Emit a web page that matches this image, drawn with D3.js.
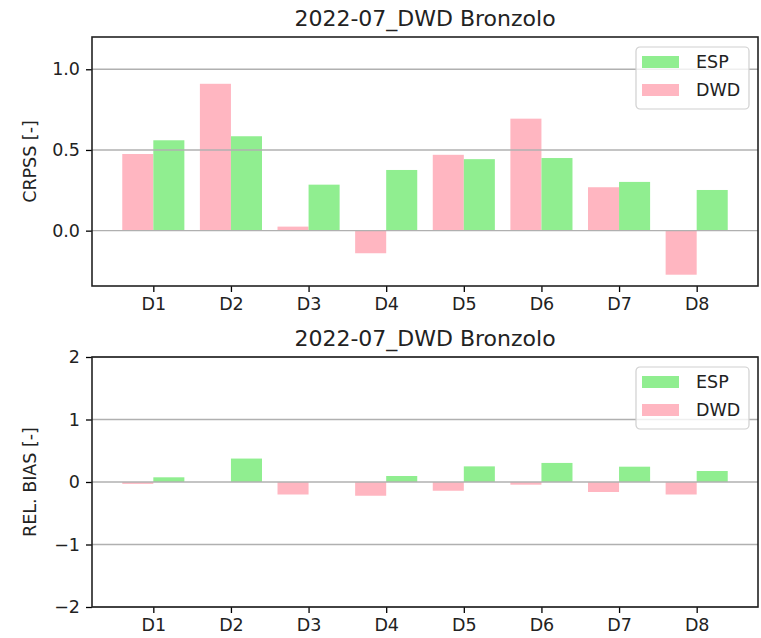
<!DOCTYPE html>
<html>
<head>
<meta charset="utf-8">
<script src="https://cdn.jsdelivr.net/npm/d3@7"></script>
<style>
  body { margin: 0; background: #fff; }
  svg { font-family: "DejaVu Sans", sans-serif; }
</style>
</head>
<body>
<svg id="chart" width="761" height="638"></svg>
<script>
const days = ['D1', 'D2', 'D3', 'D4', 'D5', 'D6', 'D7', 'D8'];
const title = '2022-07_DWD Bronzolo';
const seriesNames = ['ESP', 'DWD'];

const crpssEsp = [0.56, 0.585, 0.285, 0.376, 0.443, 0.45, 0.302, 0.252];
const crpssDwd = [0.475, 0.91, 0.025, -0.14, 0.47, 0.694, 0.269, -0.273];
const crpssTicks = [0.0, 0.5, 1.0];

const biasEsp = [0.075, 0.375, 0.0, 0.096, 0.25, 0.305, 0.245, 0.176];
const biasDwd = [-0.03, 0.0, -0.2, -0.22, -0.14, -0.043, -0.16, -0.2];
const biasTicks = [-2, -1, 0, 1, 2];

const colors = { ESP: '#90ee90', DWD: '#ffb6c1' };

const svg = d3.select('#chart');
const left = 92, right = 758;

function panel(opts) {
    const g = svg.append('g');
    const x = d3.scaleLinear().domain([-0.79, days.length - 1 + 0.79]).range([left, right]);
    const y = d3.scaleLinear().domain(opts.yDomain).range([opts.bottom, opts.top]);
    const w = 0.4;

    // bars: DWD left of tick, ESP right of tick
    g.selectAll('.dwd').data(opts.dwd).enter().append('rect')
        .attr('x', (d, i) => x(i - w))
        .attr('width', x(w) - x(0))
        .attr('y', d => y(Math.max(0, d)))
        .attr('height', d => Math.abs(y(d) - y(0)))
        .attr('fill', colors.DWD);
    g.selectAll('.esp').data(opts.esp).enter().append('rect')
        .attr('x', (d, i) => x(i))
        .attr('width', x(w) - x(0))
        .attr('y', d => y(Math.max(0, d)))
        .attr('height', d => Math.abs(y(d) - y(0)))
        .attr('fill', colors.ESP);

    // grid on top of bars, like matplotlib
    g.append('g').selectAll('line').data(opts.ticks).enter().append('line')
        .attr('x1', left).attr('x2', right)
        .attr('y1', d => y(d)).attr('y2', d => y(d))
        .attr('stroke', '#b0b0b0').attr('stroke-width', 1.4);

    const yAxis = g.append('g')
        .attr('transform', `translate(${left},0)`)
        .call(d3.axisLeft(y).tickValues(opts.ticks).tickFormat(opts.fmt).tickSize(6).tickPadding(6));
    const xAxis = g.append('g')
        .attr('transform', `translate(0,${opts.bottom})`)
        .call(d3.axisBottom(x).tickValues(d3.range(days.length)).tickFormat(i => days[i]).tickSize(6).tickPadding(6));
    [xAxis, yAxis].forEach(a => {
        a.select('.domain').remove();
        a.selectAll('line').attr('stroke', '#000').attr('stroke-width', 1.3);
        a.selectAll('text').attr('font-size', 17.5).attr('fill', '#222')
            .attr('font-family', '"DejaVu Sans", sans-serif');
    });

    g.append('rect')
        .attr('x', left).attr('y', opts.top)
        .attr('width', right - left).attr('height', opts.bottom - opts.top)
        .attr('fill', 'none').attr('stroke', '#222').attr('stroke-width', 1.6);

    g.append('text')
        .attr('x', (left + right) / 2).attr('y', opts.top - 11)
        .attr('text-anchor', 'middle').attr('font-size', 22).attr('fill', '#222')
        .text(title);

    g.append('text')
        .attr('transform', `translate(36,${(opts.top + opts.bottom) / 2}) rotate(-90)`)
        .attr('text-anchor', 'middle').attr('font-size', 17.5).attr('fill', '#222')
        .text(opts.yLabel);

    // legend
    const lg = g.append('g').attr('transform', `translate(636,${opts.top + 10})`);
    lg.append('rect')
        .attr('width', 113).attr('height', 62).attr('rx', 4)
        .attr('fill', 'rgba(255,255,255,0.8)').attr('stroke', '#d0d0d0').attr('stroke-width', 1.2);
    seriesNames.forEach((name, i) => {
        lg.append('rect')
            .attr('x', 6).attr('y', 9 + i * 28)
            .attr('width', 37).attr('height', 12)
            .attr('fill', colors[name]);
        lg.append('text')
            .attr('x', 60).attr('y', 21 + i * 28)
            .attr('font-size', 17.5).attr('fill', '#222')
            .text(name);
    });
}

panel({
    top: 37, bottom: 286, yDomain: [-0.343, 1.2],
    esp: crpssEsp, dwd: crpssDwd, ticks: crpssTicks,
    fmt: d3.format('.1f'), yLabel: 'CRPSS [-]'
});

panel({
    top: 357, bottom: 607, yDomain: [-2, 2],
    esp: biasEsp, dwd: biasDwd, ticks: biasTicks,
    fmt: d => d < 0 ? '\u2212' + Math.abs(d) : String(d), yLabel: 'REL. BIAS [-]'
});
</script>
</body>
</html>
